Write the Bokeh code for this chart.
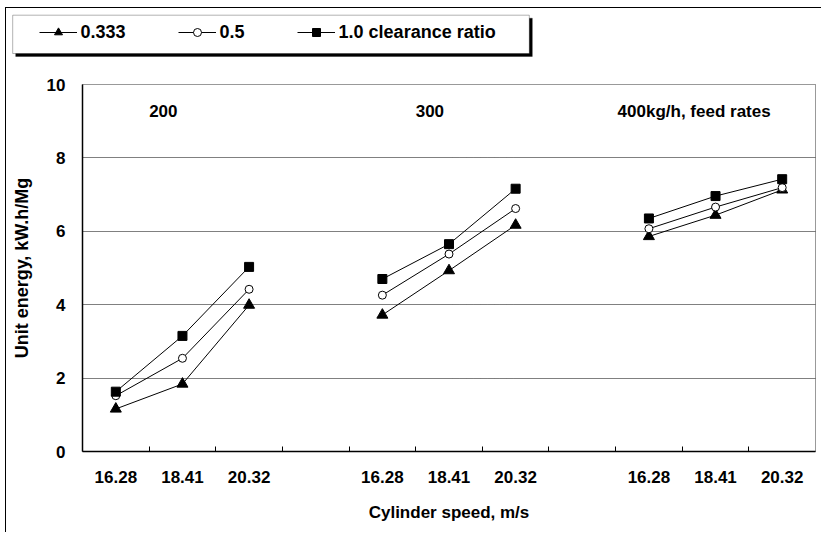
from bokeh.plotting import figure
from bokeh.models import (FixedTicker, Legend, LegendItem, BoxAnnotation, ColumnDataSource)
from bokeh.core.properties import value
from bokeh.embed import file_html
from bokeh.resources import INLINE
import math

# ---- data ----
speeds = ["16.28", "18.41", "20.32"]
feed_rates = ["200", "300", "400kg/h, feed rates"]
series_labels = ["0.333", "0.5", "1.0 clearance ratio"]
energy_0333 = [[1.16, 1.84, 3.99], [3.72, 4.93, 6.17], [5.86, 6.44, 7.13]]
energy_05 = [[1.52, 2.54, 4.42], [4.26, 5.38, 6.62], [6.07, 6.66, 7.19]]
energy_10 = [[1.63, 3.15, 5.03], [4.70, 5.65, 7.16], [6.35, 6.96, 7.42]]
y_ticks = [0, 2, 4, 6, 8, 10]

FONT = "Liberation Sans"
W = 816
TOP_H = 70
MAIN_H = 455
slot = len(speeds) + 1          # 3 speeds + one blank slot per feed rate
n_slots = slot * len(feed_rates) - 1
label_x = [1.0, 5.0, 8.03]      # left edges of the feed-rate annotations
label_y = 9.27

def xpos(g, j):
    return g * slot + j + 0.5

p = figure(width=W, height=MAIN_H, output_backend="svg", toolbar_location=None,
           x_range=(0, n_slots), y_range=(0, 10),
           min_border_left=76, min_border_right=7, min_border_top=7, min_border_bottom=81,
           styles={"margin-left": "5px", "border-left": "1.5px solid black"})
p.background_fill_color = "white"
p.border_fill_color = "white"
p.outline_line_color = "#333333"
p.outline_line_dash = "1 1"
p.outline_line_width = 1

# grid
p.xgrid.visible = False
p.ygrid.ticker = FixedTicker(ticks=y_ticks)
p.ygrid.grid_line_color = "black"
p.ygrid.grid_line_dash = "1 1"
p.ygrid.grid_line_width = 1

# x axis
centers = [xpos(g, j) for g in range(len(feed_rates)) for j in range(len(speeds))]
labels = {c: speeds[i % len(speeds)] for i, c in enumerate(centers)}
p.xaxis.ticker = FixedTicker(ticks=centers, minor_ticks=list(range(1, n_slots)))
p.xaxis.major_label_overrides = labels
p.xaxis.major_tick_in = 0
p.xaxis.major_tick_out = 0
p.xaxis.minor_tick_in = 5
p.xaxis.minor_tick_out = 0
p.xaxis.minor_tick_line_color = "black"
p.xaxis.axis_line_color = "black"
p.xaxis.axis_line_width = 1.5
p.xaxis.major_label_standoff = 19
p.xaxis.axis_label = "Cylinder speed, m/s"
p.xaxis.axis_label_standoff = 17

# y axis
p.yaxis.ticker = FixedTicker(ticks=y_ticks)
p.yaxis.major_tick_in = 0
p.yaxis.major_tick_out = 0
p.yaxis.minor_tick_line_color = None
p.yaxis.axis_line_color = "black"
p.yaxis.axis_line_width = 1.5
p.yaxis.major_label_standoff = 17
p.yaxis.axis_label = "Unit energy, kW.h/Mg"
p.yaxis.axis_label_standoff = 12

for ax in (p.xaxis[0], p.yaxis[0]):
    ax.major_label_text_font = FONT
    ax.major_label_text_font_style = "bold"
    ax.major_label_text_font_size = "17px"
    ax.major_label_text_color = "black"
    ax.axis_label_text_font = FONT
    ax.axis_label_text_font_style = "bold"
    ax.axis_label_text_font_size = "17px"
    ax.axis_label_text_color = "black"
p.yaxis.axis_label_text_font_size = "18px"

# legend strip above the chart (its own root, so it is not frame-aligned)
top = figure(width=W, height=TOP_H, output_backend="svg", toolbar_location=None,
             x_range=(-100, -99), y_range=(-100, -99),
             min_border_left=0, min_border_right=0, min_border_top=0, min_border_bottom=0,
             styles={"margin-left": "5px", "margin-top": "6.5px",
                     "border-left": "1.5px solid black", "border-top": "1.5px solid black"})
top.axis.visible = False
top.grid.visible = False
top.outline_line_color = None
top.background_fill_color = "white"
top.border_fill_color = "white"

# series
def build(series):
    xs, ys = [], []
    for g, vals in enumerate(series):
        for j, v in enumerate(vals):
            xs.append(xpos(g, j)); ys.append(v)
        xs.append(math.nan); ys.append(math.nan)
    return xs, ys

items = []
styles = [("triangle", "black", 11), ("circle", "white", 8), ("square", "black", 9)]
for data, lab, (mk, fill, sz) in zip([energy_0333, energy_05, energy_10], series_labels, styles):
    xs, ys = build(data)
    src = ColumnDataSource(dict(x=xs, y=ys))
    p.line("x", "y", source=src, line_color="black", line_width=1)
    p.scatter("x", "y", source=src, marker=mk, size=sz, fill_color=fill,
              line_color="black", line_width=1)
    # same series in the legend strip (outside its visible range) so the legend can show them
    lr = top.line("x", "y", source=src, line_color="black", line_width=1)
    sr = top.scatter("x", "y", source=src, marker=mk, size=sz, fill_color=fill,
                     line_color="black", line_width=1)
    items.append(LegendItem(label=lab, renderers=[lr, sr]))

# group labels
gsrc = ColumnDataSource(dict(x=label_x, y=[label_y] * len(feed_rates), t=feed_rates))
p.text("x", "y", text="t", source=gsrc, text_font=value(FONT), text_font_style="bold",
       text_font_size="17px", text_align="left", text_baseline="middle", text_color="black")

def sbox(l, r, t, b, **kw):
    return BoxAnnotation(left=l, right=r, top=t, bottom=b,
                         left_units="screen", right_units="screen",
                         top_units="screen", bottom_units="screen", **kw)

# legend shadow and box
top.add_layout(sbox(9.2, 525.8, 60.3, 22, fill_color="black", fill_alpha=1, line_color="black"))
top.add_layout(sbox(6.2, 522.8, 63.3, 25, fill_color="white", fill_alpha=1,
                    line_color="black", line_width=1))

legend = Legend(items=items, orientation="horizontal", location=(32.5, 35),
                padding=0, margin=0, spacing=52, glyph_width=38, glyph_height=20,
                label_standoff=4, label_height=20,
                border_line_color=None, background_fill_alpha=0,
                label_text_font=FONT, label_text_font_style="bold",
                label_text_font_size="18px", label_text_color="black")
top.add_layout(legend, "center")

open("out.html", "w").write(file_html([top, p], INLINE))
